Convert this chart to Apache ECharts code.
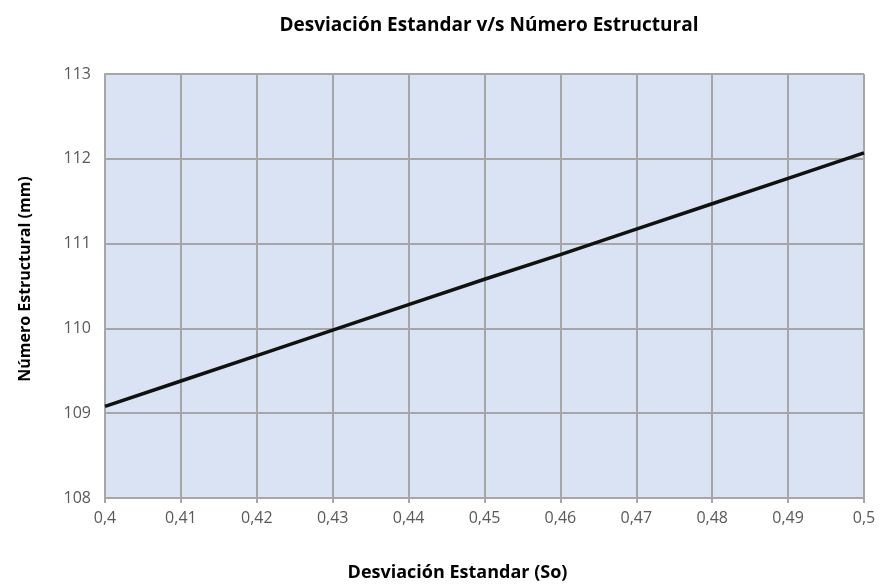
<!DOCTYPE html>
<html><head><meta charset="utf-8">
<script src="https://cdn.jsdelivr.net/npm/echarts@6/dist/echarts.min.js"></script>
<style>html,body{margin:0;padding:0;background:#fff}#c{width:880px;height:586px}</style>
</head><body><div id="c"></div>
<script>
const xValues = [0.40, 0.41, 0.42, 0.43, 0.44, 0.45, 0.46, 0.47, 0.48, 0.49, 0.50];
const yValues = [109.08, 109.38, 109.68, 109.98, 110.28, 110.58, 110.87, 111.17, 111.47, 111.77, 112.07];
const titleText = 'Desviación Estandar v/s Número Estructural';
const xName = 'Desviación Estandar (So)';
const yName = 'Número Estructural (mm)';

const chart = echarts.init(document.getElementById('c'));
const font = "'Open Sans', 'Noto Sans', sans-serif";
chart.setOption({
  animation: false,
  title: { text: titleText, left: 484, top: 11, textAlign: 'center',
    textStyle: { fontFamily: font, fontSize: 19, fontWeight: 'bold', color: '#000' } },
  grid: { left: 105, right: 16, top: 74, bottom: 88, show: true, outerBoundsMode: 'none', containLabel: false,
    backgroundColor: '#dae3f3', borderColor: '#b4c7e7', borderWidth: 1 },
  xAxis: { type: 'value', min: 0.4, max: 0.5, interval: 0.01,
    name: xName, nameLocation: 'middle', nameGap: 66,
    nameTextStyle: { fontFamily: font, fontSize: 18, fontWeight: 'bold', color: '#000', padding: [0, 54, 0, 0] },
    axisLine: { show: true, lineStyle: { color: '#a6a6a6', width: 2 } },
    axisTick: { show: true, length: 5, lineStyle: { color: '#a6a6a6', width: 2 } },
    splitLine: { show: true, lineStyle: { color: '#a6a6a6', width: 2 } },
    axisLabel: { fontFamily: font, fontSize: 16, color: '#595959', margin: 12,
      formatter: v => String(Math.round(v*100)/100).replace('.', ',') } },
  yAxis: { type: 'value', min: 108, max: 113, interval: 1,
    name: yName, nameLocation: 'middle', nameGap: 72,
    nameTextStyle: { fontFamily: font, fontSize: 16, fontWeight: 'bold', color: '#000', padding: [0, 0, 0, 14] },
    axisLine: { show: true, lineStyle: { color: '#a6a6a6', width: 2 } },
    axisTick: { show: false },
    splitLine: { show: true, lineStyle: { color: '#a6a6a6', width: 2 } },
    axisLabel: { fontFamily: font, fontSize: 16, color: '#595959', margin: 14 } },
  series: [{ type: 'line', data: xValues.map((x, i) => [x, yValues[i]]),
    showSymbol: false, lineStyle: { color: '#111', width: 3.5 } }]
});
</script></body></html>
